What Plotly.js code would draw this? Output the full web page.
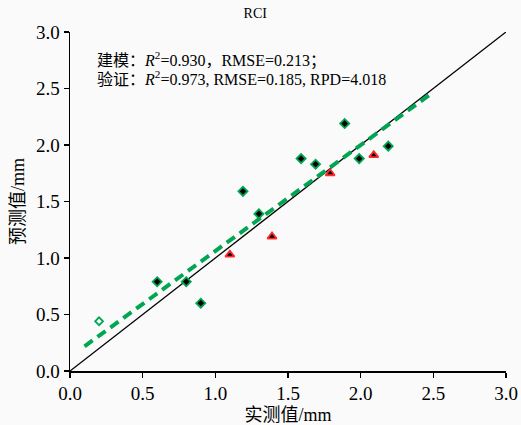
<!DOCTYPE html>
<html>
<head>
<meta charset="utf-8">
<script src="https://cdn.plot.ly/plotly-3.0.1.min.js"></script>
<style>html,body{margin:0;padding:0;background:#fafafa;}</style>
</head>
<body>
<div id="chart" style="width:521px;height:425px;"></div>
<script>
// Calibration set (建模)
const calX = [0.60, 0.80, 0.90, 1.19, 1.30, 1.59, 1.69, 1.89, 1.99, 2.19];
const calY = [0.79, 0.79, 0.60, 1.59, 1.39, 1.88, 1.83, 2.19, 1.88, 1.99];
// Hollow calibration point
const openX = [0.20];
const openY = [0.44];
// Validation set (验证)
const valX = [1.10, 1.39, 1.79, 2.09];
const valY = [1.03, 1.19, 1.75, 1.91];
// Fitted line
const fitX = [0.10, 2.47];
const fitY = [0.218, 2.44];
// 1:1 line
const oneX = [0, 3];
const oneY = [0, 3];
const tickVals = [0, 0.5, 1.0, 1.5, 2.0, 2.5, 3.0];
const tickText = ["0.0", "0.5", "1.0", "1.5", "2.0", "2.5", "3.0"];

const serif = "Liberation Serif, 'Noto Sans CJK SC', serif";
const green = "#00a651";

const traces = [
  {x: oneX, y: oneY, mode: "lines", line: {color: "#000", width: 1.3}, hoverinfo: "skip"},
  {x: fitX, y: fitY, mode: "lines", line: {color: green, width: 4, dash: "10px,6px"}, hoverinfo: "skip"},
  {x: calX, y: calY, mode: "markers", marker: {symbol: "diamond", size: 7, color: "#000", line: {color: green, width: 1.8}}},
  {x: openX, y: openY, mode: "markers", marker: {symbol: "diamond-open", size: 6, color: green, line: {color: green, width: 1.8}}},
  {x: valX, y: valY, mode: "markers", marker: {symbol: "triangle-up", size: 8, color: "#000", line: {color: "#ff2a2a", width: 1.8}}}
];

const layout = {
  width: 521, height: 425,
  margin: {l: 70, r: 15, t: 32, b: 54},
  paper_bgcolor: "#fafafa",
  plot_bgcolor: "#fafafa",
  showlegend: false,
  title: {text: "RCI", font: {family: serif, size: 14, color: "#000"}, x: 0.49, xanchor: "center", y: 0.97, yanchor: "middle"},
  xaxis: {
    range: [0, 3], tickvals: tickVals, ticktext: tickText,
    showgrid: false, zeroline: false, showline: true, linecolor: "#000", linewidth: 1.5,
    ticks: "outside", ticklen: 5, tickwidth: 1.5, tickcolor: "#000",
    tickfont: {family: serif, size: 19, color: "#000"},
    title: {text: "实测值/mm", font: {family: serif, size: 18, color: "#000"}, standoff: 5}
  },
  yaxis: {
    range: [0, 3], tickvals: tickVals, ticktext: tickText,
    showgrid: false, zeroline: false, showline: true, linecolor: "#000", linewidth: 1.5,
    ticks: "outside", ticklen: 5, tickwidth: 1.5, tickcolor: "#000",
    tickfont: {family: serif, size: 19, color: "#000"},
    title: {text: "预测值/mm", font: {family: serif, size: 18, color: "#000"}, standoff: 6}
  },
  annotations: [
    {xref: "paper", yref: "paper", x: 0.058, y: 0.92, xanchor: "left", yanchor: "middle", showarrow: false,
     text: "建模：<i>R</i><sup>2</sup>=0.930，RMSE=0.213；", font: {family: serif, size: 16, color: "#000"}},
    {xref: "paper", yref: "paper", x: 0.058, y: 0.863, xanchor: "left", yanchor: "middle", showarrow: false,
     text: "验证：<i>R</i><sup>2</sup>=0.973, RMSE=0.185, RPD=4.018", font: {family: serif, size: 16, color: "#000"}}
  ]
};

Plotly.newPlot("chart", traces, layout, {displayModeBar: false, staticPlot: true});
</script>
</body>
</html>
